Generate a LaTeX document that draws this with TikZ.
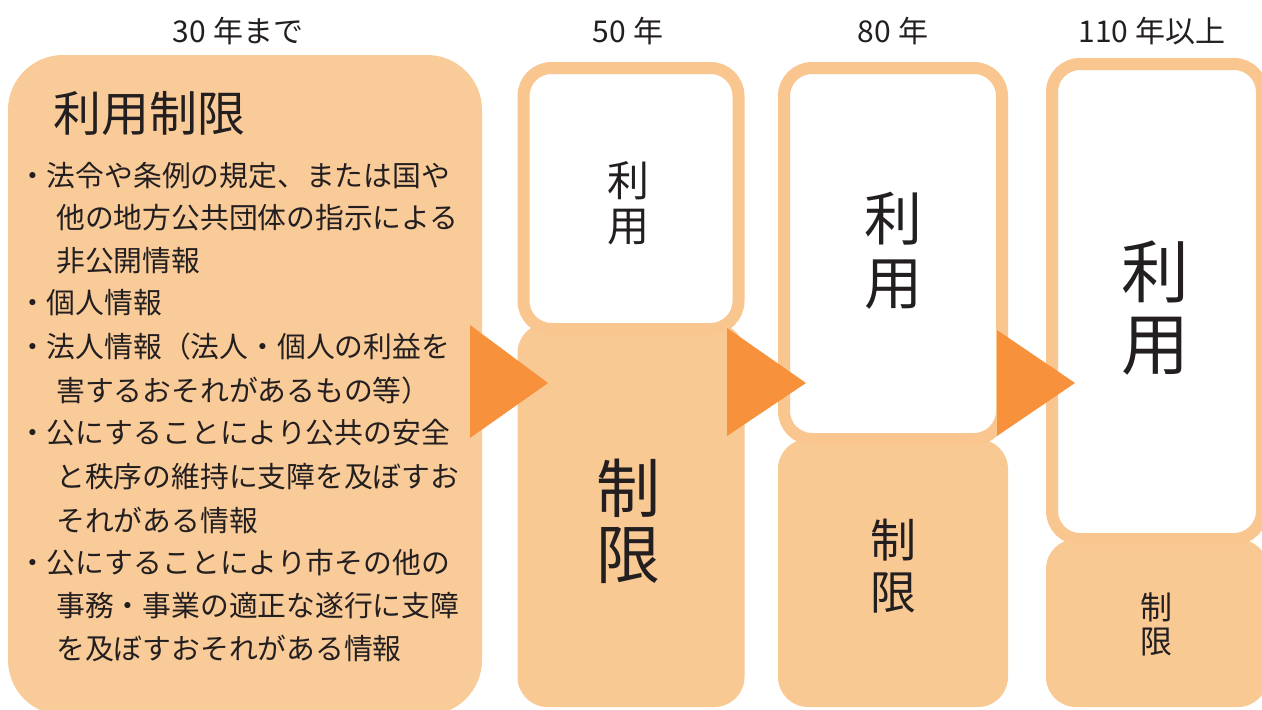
\documentclass[tikz,border=0pt]{standalone}
\usepackage{fontspec}
\setmainfont{Noto Sans CJK JP}
\definecolor{boxfill}{HTML}{F9CB98}
\definecolor{boxline}{HTML}{F9C690}
\definecolor{lowfill}{HTML}{F9C994}
\definecolor{arrowc}{HTML}{F7913B}
\definecolor{ink}{HTML}{231F20}
\tikzset{
  bigbox/.style={fill=boxfill, rounded corners=55pt, inner sep=0pt},
  upbox/.style={draw=boxline, line width=12pt, fill=white, rounded corners=28pt, inner sep=0pt},
  lowbox/.style={fill=lowfill, rounded corners=30pt, inner sep=0pt},
  arrowtri/.style={fill=arrowc},
  head/.style={text=ink, font={\fontsize{30}{34}\selectfont}, inner sep=0pt},
  line/.style={text=ink, anchor=west, font={\fontsize{28.8}{32}\selectfont}, inner sep=0pt},
  vlabel/.style={text=ink, align=center, inner sep=0pt},
}
\begin{document}
\begin{tikzpicture}[x=1pt,y=-1pt]
\useasboundingbox (0,0) rectangle (1262,710);
\fill[white] (0,0) rectangle (1262,710);
% big left box
\node[bigbox, minimum width=474pt, minimum height=660pt] (big) at (245,385) {};
% column 2
\node[lowbox, minimum width=227pt, minimum height=384pt] (low2) at (631,515) {};
\node[upbox, minimum width=215pt, minimum height=261pt] (up2) at (631,198.5) {};
% column 3
\node[lowbox, minimum width=230pt, minimum height=268pt] (low3) at (893,573) {};
\node[upbox, minimum width=218pt, minimum height=371pt] (up3) at (893,253.5) {};
% column 4
\node[lowbox, minimum width=222pt, minimum height=168pt] (low4) at (1157,623) {};
\node[upbox, minimum width=210pt, minimum height=475pt] (up4) at (1157,301.5) {};
% arrows
\fill[arrowtri] (470,325) -- (548,383) -- (470,438) -- cycle;
\fill[arrowtri] (727,328) -- (806,383) -- (727,436) -- cycle;
\fill[arrowtri] (997,330) -- (1075,383) -- (997,436) -- cycle;
% headers
\node[head] (h1) at (238,31) {30 年まで};
\node[head] (h2) at (628,31) {50 年};
\node[head] (h3) at (893,31) {80 年};
\node[head] (h4) at (1152,31) {110 年以上};
% left text
\node[text=ink, anchor=west, inner sep=0pt, font={\fontsize{48}{52}\selectfont}] (title) at (53,113) {利用制限};
\node[line] (l1) at (18,176) {・法令や条例の規定、または国や};
\node[line] (l2) at (56,218) {他の地方公共団体の指示による};
\node[line] (l3) at (56,261) {非公開情報};
\node[line] (l4) at (18,303) {・個人情報};
\node[line] (l5) at (18,347) {・法人情報（法人・個人の利益を};
\node[line] (l6) at (56,391) {害するおそれがあるもの等）};
\node[line] (l7) at (18,433) {・公にすることにより公共の安全};
\node[line] (l8) at (56,477) {と秩序の維持に支障を及ぼすお};
\node[line] (l9) at (56,520) {それがある情報};
\node[line] (l10) at (18,563) {・公にすることにより市その他の};
\node[line] (l11) at (56,606) {事務・事業の適正な遂行に支障};
\node[line] (l12) at (56,648) {を及ぼすおそれがある情報};
% column labels
\node[vlabel, font={\fontsize{42}{45}\selectfont}] (t2u) at (628,203) {利\\用};
\node[vlabel, font={\fontsize{64}{66}\selectfont}] (t2l) at (628,521) {制\\限};
\node[vlabel, font={\fontsize{58}{64}\selectfont}] (t3u) at (893,251) {利\\用};
\node[vlabel, font={\fontsize{46}{52}\selectfont}] (t3l) at (893,566) {制\\限};
\node[vlabel, font={\fontsize{68}{72}\selectfont}] (t4u) at (1155,308) {利\\用};
\node[vlabel, font={\fontsize{32}{34}\selectfont}] (t4l) at (1156,624) {制\\限};
\end{tikzpicture}
\end{document}
